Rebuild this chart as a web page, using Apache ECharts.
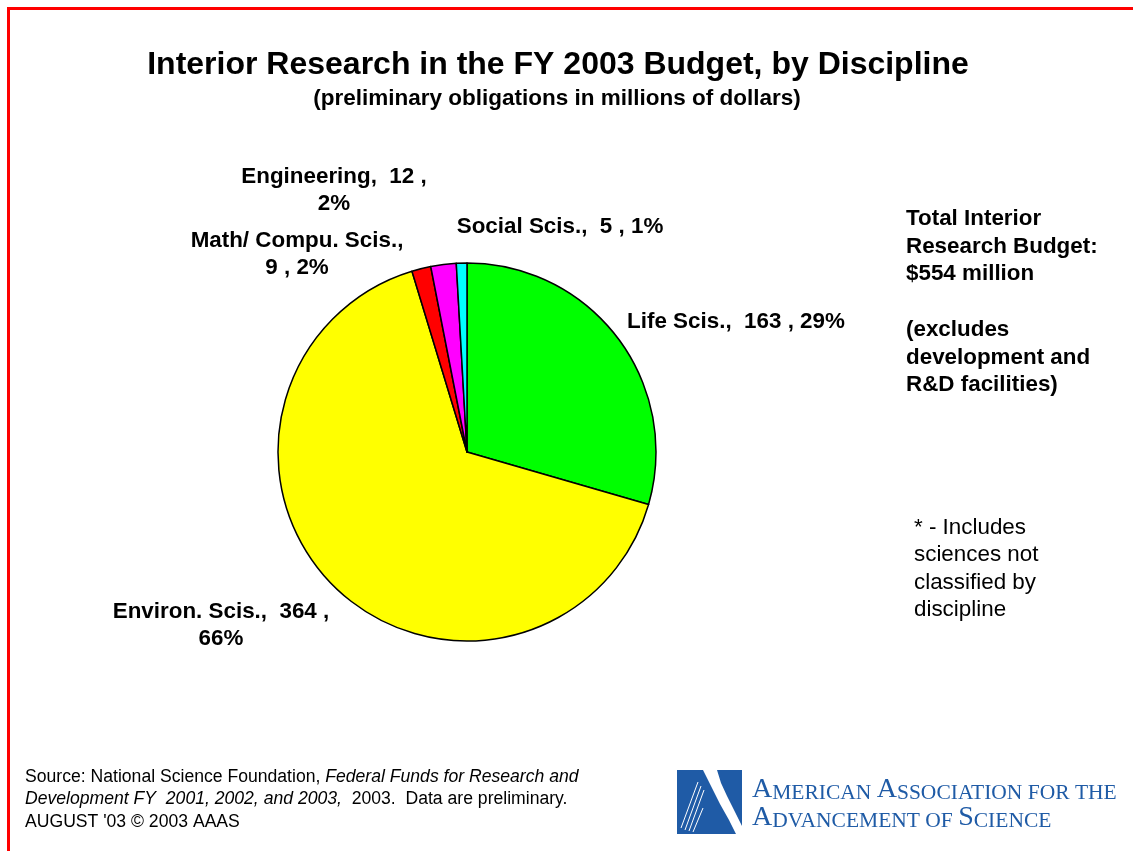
<!DOCTYPE html>
<html><head><meta charset="utf-8">
<script src="https://cdn.jsdelivr.net/npm/echarts@6/dist/echarts.min.js"></script>
<style>html,body{margin:0;padding:0;background:#fff}#c{width:1133px;height:851px}</style>
</head><body><div id="c"></div>
<script>
const categories = ['Life Scis.', 'Environ. Scis.', 'Math/ Compu. Scis.', 'Engineering', 'Social Scis.'];
const values = [163, 364, 9, 12, 5];
const percents = ['29%', '66%', '2%', '2%', '1%'];
const labelTexts = [
  'Life Scis.,  163 , 29%',
  'Environ. Scis.,  364 ,\n66%',
  'Math/ Compu. Scis.,\n9 , 2%',
  'Engineering,  12 ,\n2%',
  'Social Scis.,  5 , 1%'
];
const colors = ['#00ff00', '#ffff00', '#ff0000', '#ff00ff', '#00ffff'];
const labelCenters = [[736, 322], [221, 625], [297, 254.5], [334, 190.5], [560, 227]];

const chart = echarts.init(document.getElementById('c'), null, {renderer: 'canvas'});
const F = '"Liberation Sans", Arial, Helvetica, sans-serif';
const SERIF = '"Liberation Serif", "DejaVu Serif", serif';
const blue = '#1f5ba6';

chart.setOption({
  backgroundColor: '#fff',
  animation: false,
  title: [
    {text: 'Interior Research in the FY 2003 Budget, by Discipline', left: 553, top: 44, textAlign: 'center',
     textStyle: {fontFamily: F, fontSize: 32, fontWeight: 'bold', color: '#000'}},
    {text: '(preliminary obligations in millions of dollars)', left: 552, top: 82, textAlign: 'center',
     textStyle: {fontFamily: F, fontSize: 22.5, fontWeight: 'bold', color: '#000'}}
  ],
  series: [{
    type: 'pie',
    center: [467, 452],
    radius: [0, 189],
    startAngle: 90,
    clockwise: true,
    data: categories.map((c, i) => ({name: c, value: values[i], itemStyle: {color: colors[i]}})),
    itemStyle: {borderColor: '#000', borderWidth: 1.5},
    label: {
      show: true,
      position: 'outside',
      formatter: p => labelTexts[p.dataIndex],
      fontFamily: F, fontSize: 22.4, fontWeight: 'bold', color: '#000',
      align: 'center', lineHeight: 27
    },
    labelLine: {show: false},
    labelLayout: p => ({x: labelCenters[p.dataIndex][0], y: labelCenters[p.dataIndex][1], align: 'center', verticalAlign: 'middle'}),
    emphasis: {disabled: true}
  }],
  graphic: [
    {type: 'polyline', shape: {points: [[8.5, 851], [8.5, 8.5], [1133, 8.5]]}, style: {stroke: '#ff0000', lineWidth: 3, fill: null}},
    {type: 'text', left: 906, top: 205, style: {text: 'Total Interior\nResearch Budget:\n$554 million\n\n(excludes\ndevelopment and\nR&D facilities)',
      font: 'bold 22.4px ' + F, fill: '#000', lineHeight: 27.7}},
    {type: 'text', left: 914, top: 514, style: {text: '* - Includes\nsciences not\nclassified by\ndiscipline',
      font: '22.4px ' + F, fill: '#000', lineHeight: 27.5}},
    {type: 'text', left: 25, top: 768, style: {
      text: '{n|Source: National Science Foundation, }{i|Federal Funds for Research and}\n{i|Development FY  2001, 2002, and 2003,}{n|  2003.  Data are preliminary.}\n{n|AUGUST \'03 © 2003 AAAS}',
      rich: {n: {fontFamily: F, fontSize: 17.6, fill: '#000', lineHeight: 22.5}, i: {fontFamily: F, fontSize: 17.6, fontStyle: 'italic', fill: '#000', lineHeight: 22.5}}
    }},
    {type: 'rect', shape: {x: 677, y: 770, width: 65, height: 64}, style: {fill: blue}},
    {type: 'polygon', shape: {points: [[703, 770], [711, 786], [720, 804], [729, 820], [736, 834], [742, 834], [742, 826], [735, 812], [727, 796], [721, 783], [717, 770]]}, style: {fill: '#fff'}},
    {type: 'line', shape: {x1: 681, y1: 828, x2: 698, y2: 782}, style: {stroke: '#fff', lineWidth: 1}},
    {type: 'line', shape: {x1: 685, y1: 830, x2: 701, y2: 786}, style: {stroke: '#fff', lineWidth: 1}},
    {type: 'line', shape: {x1: 689, y1: 831, x2: 704, y2: 790}, style: {stroke: '#fff', lineWidth: 1}},
    {type: 'line', shape: {x1: 693, y1: 832, x2: 703, y2: 808}, style: {stroke: '#fff', lineWidth: 1}},
    {type: 'text', left: 752, top: 776, style: {
      text: '{b|A}{s|MERICAN }{b|A}{s|SSOCIATION FOR THE}\n{b|A}{s|DVANCEMENT OF }{b|S}{s|CIENCE}',
      rich: {b: {fontFamily: SERIF, fontSize: 28, fill: blue, lineHeight: 28, verticalAlign: 'bottom'},
             s: {fontFamily: SERIF, fontSize: 21.5, fill: blue, lineHeight: 28, verticalAlign: 'bottom'}}
    }}
  ]
});
</script></body></html>
